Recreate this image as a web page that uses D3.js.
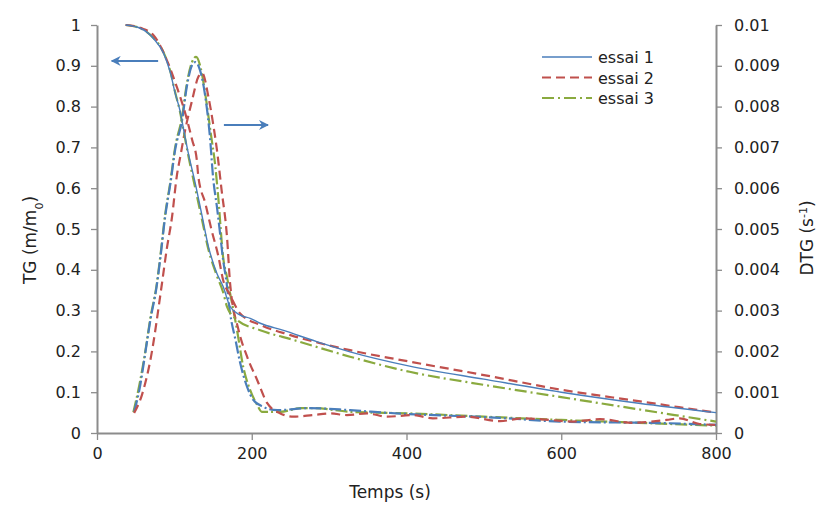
<!DOCTYPE html>
<html><head><meta charset="utf-8">
<script src="https://cdn.jsdelivr.net/npm/d3@7"></script>
<style>body{margin:0;background:#fff;} text{font-family:"DejaVu Sans",sans-serif;fill:#222;}</style>
</head><body>
<svg id="c" width="818" height="507"></svg>
<script>
// TG (left axis) series: [time s, m/m0]
const tgEssai1 = [[37,1.0],[56,0.992],[73,0.967],[86,0.931],[95,0.882],[101,0.833],[107,0.792],[112,0.743],[118,0.686],[127,0.612],[136,0.530],[144,0.457],[155,0.391],[163,0.359],[172,0.310],[185,0.289],[198,0.281],[211,0.269],[240,0.252],[284,0.224],[327,0.199],[404,0.164],[500,0.132],[600,0.100],[700,0.073],[800,0.05]];
const tgEssai2 = [[37,1.0],[56,0.993],[73,0.975],[92,0.906],[103,0.849],[114,0.784],[123,0.718],[129,0.669],[131,0.628],[140,0.563],[148,0.498],[157,0.432],[163,0.375],[172,0.338],[185,0.293],[211,0.265],[250,0.240],[327,0.203],[404,0.175],[500,0.142],[600,0.106],[700,0.078],[800,0.05]];
const tgEssai3 = [[37,1.0],[56,0.992],[73,0.968],[86,0.933],[95,0.885],[101,0.835],[107,0.790],[112,0.740],[118,0.680],[127,0.600],[136,0.520],[144,0.450],[155,0.385],[163,0.345],[168,0.310],[181,0.277],[211,0.252],[254,0.228],[327,0.187],[404,0.150],[500,0.118],[600,0.088],[700,0.058],[800,0.028]];
// DTG (right axis) series: [time s, 1/s]
const dtgEssai1 = [[48,0.00052],[56,0.00118],[62,0.00191],[69,0.00277],[77,0.00358],[82,0.00431],[88,0.00529],[95,0.00613],[101,0.00694],[110,0.00767],[116,0.00848],[123,0.00902],[127,0.00909],[133,0.00890],[140,0.00824],[146,0.00725],[150,0.00627],[155,0.00554],[159,0.00490],[163,0.00424],[167,0.00375],[172,0.00294],[179,0.00228],[185,0.00172],[194,0.00113],[202,0.00081],[215,0.00064],[233,0.00056],[275,0.00061],[327,0.00056],[379,0.00049],[521,0.00037],[598,0.00028],[736,0.00024],[800,0.00020]];
const dtgEssai2 = [[48,0.00049],[58,0.00093],[69,0.00179],[84,0.00367],[90,0.00449],[97,0.00530],[103,0.00628],[108,0.00681],[114,0.00743],[123,0.00816],[131,0.00873],[136,0.00882],[144,0.00824],[150,0.00759],[155,0.00694],[161,0.00596],[168,0.00481],[172,0.00367],[183,0.00252],[194,0.00187],[207,0.00130],[220,0.00073],[237,0.00048],[254,0.00040],[279,0.00044],[301,0.00048],[323,0.00044],[349,0.00048],[375,0.00040],[408,0.00044],[434,0.00036],[478,0.00040],[521,0.00029],[550,0.00036],[585,0.00032],[615,0.00028],[650,0.00034],[692,0.00025],[736,0.00032],[753,0.00036],[779,0.00022],[800,0.00020]];
const dtgEssai3 = [[47,0.00051],[55,0.00120],[62,0.00195],[69,0.00282],[77,0.00362],[82,0.00436],[88,0.00534],[95,0.00618],[101,0.00700],[110,0.00775],[116,0.00855],[123,0.00910],[128,0.00922],[134,0.00895],[140,0.00830],[147,0.00735],[153,0.00652],[157,0.00571],[163,0.00431],[168,0.00382],[181,0.00252],[189,0.00162],[198,0.00105],[207,0.00069],[213,0.00052],[237,0.00052],[263,0.00061],[279,0.00061],[327,0.00052],[404,0.00048],[500,0.00040],[600,0.00032],[700,0.00025],[800,0.00018]];

const seriesNames = ["essai 1","essai 2","essai 3"];
const xTicks = [0,200,400,600,800];
const yLeftTicks = [0,0.1,0.2,0.3,0.4,0.5,0.6,0.7,0.8,0.9,1];
const yRightTicks = [0,0.001,0.002,0.003,0.004,0.005,0.006,0.007,0.008,0.009,0.01];

const colors = ["#4A7EBB","#C0504D","#8AAA3F"];
const tgDash = [null,"9,5","12,4,2,4"];
const dtgDash = ["12,3,2,3","9,5","12,3,2,3"];

const svg = d3.select("#c");
const L=97, R=716, T=25, B=433;
const x = d3.scaleLinear().domain([0,800]).range([L,R]);
const yL = d3.scaleLinear().domain([0,1]).range([B,T]);
const yR = d3.scaleLinear().domain([0,0.01]).range([B,T]);
const axisColor = "#8c8c8c";

function styleAxis(g){
  g.select(".domain").attr("stroke",axisColor).attr("stroke-width",2);
  g.selectAll(".tick line").attr("stroke",axisColor).attr("stroke-width",1.3);
  g.selectAll(".tick text").style("font-size","16px").attr("fill","#222");
}
svg.append("g").attr("transform",`translate(0,${B})`)
  .call(d3.axisBottom(x).tickValues(xTicks).tickSize(7).tickSizeOuter(0).tickPadding(8).tickFormat(d3.format("d")))
  .call(styleAxis);
svg.append("g").attr("transform",`translate(${L},0)`)
  .call(d3.axisLeft(yL).tickValues(yLeftTicks).tickSize(6).tickSizeOuter(0).tickPadding(10).tickFormat(d=>d3.format("")(+d.toFixed(1))))
  .call(styleAxis);
svg.append("g").attr("transform",`translate(${R},0)`)
  .call(d3.axisRight(yR).tickValues(yRightTicks).tickSize(6).tickSizeOuter(0).tickPadding(12).tickFormat(d=>d3.format("")(+d.toFixed(3))))
  .call(styleAxis);

const lineL = d3.line().x(d=>x(d[0])).y(d=>yL(d[1])).curve(d3.curveMonotoneX);
const lineR = d3.line().x(d=>x(d[0])).y(d=>yR(d[1])).curve(d3.curveMonotoneX);

const dtg = [dtgEssai1,dtgEssai2,dtgEssai3];
const tg = [tgEssai1,tgEssai2,tgEssai3];
[2,0,1].forEach(i=>{
  svg.append("path").datum(dtg[i]).attr("d",lineR).attr("fill","none")
    .attr("stroke",colors[i]).attr("stroke-width",2.2).attr("stroke-dasharray",dtgDash[i]);
});
[2,1,0].forEach(i=>{
  svg.append("path").datum(tg[i]).attr("d",lineL).attr("fill","none")
    .attr("stroke",colors[i]).attr("stroke-width",i===0?1.4:2.2).attr("stroke-dasharray",tgDash[i]);
});

// arrows
const defs = svg.append("defs");
defs.append("marker").attr("id","ah").attr("viewBox","0 0 10 10").attr("refX",9).attr("refY",5)
  .attr("markerWidth",5).attr("markerHeight",5).attr("orient","auto-start-reverse")
  .append("path").attr("d","M0,0 L10,5 L0,10 L3,5 Z").attr("fill",colors[0]);
svg.append("line").attr("x1",x(79)).attr("x2",x(19)).attr("y1",yL(0.912)).attr("y2",yL(0.912))
  .attr("stroke",colors[0]).attr("stroke-width",2).attr("marker-end","url(#ah)");
svg.append("line").attr("x1",x(164)).attr("x2",x(221)).attr("y1",yL(0.755)).attr("y2",yL(0.755))
  .attr("stroke",colors[0]).attr("stroke-width",2).attr("marker-end","url(#ah)");

// legend
const leg = svg.append("g");
seriesNames.forEach((n,i)=>{
  const yy = 57 + i*20.5;
  leg.append("line").attr("x1",542).attr("x2",592).attr("y1",yy).attr("y2",yy)
    .attr("stroke",colors[i]).attr("stroke-width",i===0?1.4:2.2).attr("stroke-dasharray",tgDash[i]);
  leg.append("text").attr("x",598).attr("y",yy+6).style("font-size","16px").text(n);
});

// axis titles
svg.append("text").attr("x",390).attr("y",498).attr("text-anchor","middle").style("font-size","17px").text("Temps (s)");
const tl = svg.append("text").attr("transform","translate(36,240) rotate(-90)").attr("text-anchor","middle").style("font-size","17px");
tl.append("tspan").text("TG (m/m");
tl.append("tspan").attr("baseline-shift","sub").style("font-size","11px").text("0");
tl.append("tspan").text(")");
const tr = svg.append("text").attr("transform","translate(813,238) rotate(-90)").attr("text-anchor","middle").style("font-size","17px");
tr.append("tspan").text("DTG (s");
tr.append("tspan").attr("baseline-shift","super").style("font-size","11px").text("-1");
tr.append("tspan").text(")");
</script>
</body></html>
